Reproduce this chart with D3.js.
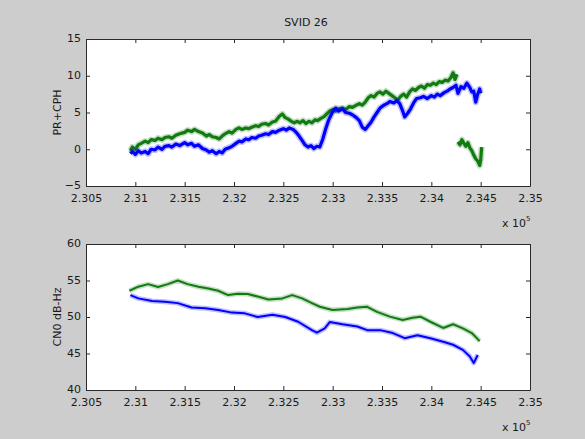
<!DOCTYPE html>
<html>
<head>
<meta charset="utf-8">
<script src="https://cdn.jsdelivr.net/npm/d3@7"></script>
<style>
  html, body { margin: 0; padding: 0; background: #cdcdcd; }
  svg { display: block; }
  text { font-family: "DejaVu Sans", sans-serif; fill: #1a1a1a; }
</style>
</head>
<body>
<svg id="fig" width="585" height="439"></svg>
<script>
// ---- data (time axis in units of 1e5 s) ----
const titleText = "SVID 26";
const xTicks = [2.305, 2.31, 2.315, 2.32, 2.325, 2.33, 2.335, 2.34, 2.345, 2.35];
const xTickLabels = ["2.305", "2.31", "2.315", "2.32", "2.325", "2.33", "2.335", "2.34", "2.345", "2.35"];
const prTicks = [-5, 0, 5, 10, 15];
const cnoTicks = [40, 45, 50, 55, 60];
const prLabel = "PR+CPH";
const cnoLabel = "CN0 dB-Hz";

// PR+CPH, blue receiver
const prBlue = [
  [2.3095,-0.6],[2.3097,-0.3],[2.3100,-0.7],[2.3103,-0.2],[2.3106,-0.5],[2.3110,-0.3],[2.3113,-0.6],
  [2.3116,0.0],[2.3120,-0.1],[2.3123,0.3],[2.3127,0.0],[2.3130,0.4],[2.3134,0.5],[2.3137,0.3],
  [2.3141,0.7],[2.3145,0.5],[2.3150,0.9],[2.3153,0.6],[2.3157,0.8],[2.3160,0.4],[2.3164,0.6],
  [2.3168,0.1],[2.3172,-0.1],[2.3175,-0.4],[2.3178,-0.2],[2.3182,-0.6],[2.3185,-0.3],[2.3188,-0.5],
  [2.3191,0.0],[2.3195,0.2],[2.3198,0.4],[2.3202,0.8],[2.3205,1.1],[2.3208,1.0],[2.3212,1.4],
  [2.3215,1.3],[2.3218,1.6],[2.3222,1.5],[2.3225,1.8],[2.3228,1.9],[2.3232,2.1],[2.3235,2.0],
  [2.3239,2.4],[2.3242,2.3],[2.3246,2.6],[2.3250,2.8],[2.3253,2.6],[2.3256,2.9],[2.3260,2.7],
  [2.3263,2.3],[2.3266,1.8],[2.3269,1.2],[2.3272,0.6],[2.3275,0.3],[2.3278,0.5],[2.3281,0.1],
  [2.3284,0.4],[2.3287,0.3],[2.3290,1.4],[2.3293,2.8],[2.3296,4.0],[2.3300,5.1],[2.3303,5.6],
  [2.3306,5.2],[2.3310,5.5],[2.3313,5.0],[2.3317,4.9],[2.3321,4.6],[2.3324,4.3],[2.3327,3.9],
  [2.3330,3.0],[2.3333,2.7],[2.3336,3.2],[2.3339,3.7],[2.3342,4.4],[2.3345,5.0],[2.3348,5.6],
  [2.3352,6.0],[2.3355,6.2],[2.3358,6.5],[2.3362,6.3],[2.3365,6.6],[2.3368,6.2],[2.3371,5.2],
  [2.3373,4.4],[2.3376,4.9],[2.3379,5.5],[2.3382,6.3],[2.3385,6.9],[2.3389,7.0],[2.3392,7.2],
  [2.3396,6.9],[2.3400,7.3],[2.3403,7.1],[2.3406,7.5],[2.3409,7.3],[2.3413,7.7],[2.3416,7.9],
  [2.3419,8.2],[2.3422,8.4],[2.3425,8.7],[2.3427,7.6],[2.3430,8.5],[2.3433,8.3],[2.3436,9.0],
  [2.3439,8.4],[2.3441,7.8],[2.3443,7.9],[2.3445,6.4],[2.3447,7.5],[2.3449,8.2],[2.3450,7.6]
];

// PR+CPH, green receiver (before the jump)
const prGreenA = [
  [2.3095,-0.2],[2.3097,0.3],[2.3100,0.0],[2.3103,0.6],[2.3106,0.8],[2.3110,1.1],[2.3113,0.9],
  [2.3116,1.3],[2.3120,1.2],[2.3123,1.5],[2.3127,1.3],[2.3130,1.6],[2.3134,1.7],[2.3137,1.5],
  [2.3141,1.9],[2.3145,2.1],[2.3150,2.3],[2.3153,2.6],[2.3157,2.4],[2.3160,2.7],[2.3164,2.4],
  [2.3168,2.2],[2.3172,1.8],[2.3175,2.0],[2.3178,1.7],[2.3182,1.6],[2.3185,1.4],[2.3188,1.8],
  [2.3191,2.1],[2.3195,2.4],[2.3198,2.2],[2.3202,2.7],[2.3205,2.9],[2.3208,2.7],[2.3212,2.9],
  [2.3215,2.8],[2.3218,3.0],[2.3222,3.2],[2.3225,3.1],[2.3228,3.4],[2.3232,3.5],[2.3235,3.3],
  [2.3239,3.7],[2.3242,3.8],[2.3246,4.5],[2.3249,4.8],[2.3252,4.3],[2.3255,4.1],[2.3258,3.8],
  [2.3261,3.6],[2.3264,3.8],[2.3267,3.6],[2.3270,3.9],[2.3273,3.5],[2.3276,3.8],[2.3279,3.6],
  [2.3282,4.0],[2.3285,3.9],[2.3288,4.2],[2.3291,4.4],[2.3294,4.8],[2.3297,5.2],[2.3300,5.4],
  [2.3303,5.2],[2.3306,5.5],[2.3310,5.6],[2.3313,5.4],[2.3317,5.8],[2.3320,5.7],[2.3324,6.0],
  [2.3327,6.2],[2.3330,6.0],[2.3333,6.4],[2.3336,7.0],[2.3339,7.3],[2.3342,7.1],[2.3345,7.6],
  [2.3348,7.8],[2.3351,7.5],[2.3354,7.9],[2.3357,7.6],[2.3360,7.3],[2.3363,7.0],[2.3366,6.7],
  [2.3369,7.2],[2.3372,7.5],[2.3375,7.1],[2.3378,7.8],[2.3381,8.2],[2.3384,8.0],[2.3387,8.4],
  [2.3390,8.6],[2.3393,8.3],[2.3396,8.8],[2.3399,8.7],[2.3402,9.0],[2.3405,8.8],[2.3408,9.2],
  [2.3411,9.1],[2.3414,9.4],[2.3417,9.3],[2.3420,9.8],[2.3422,10.4],[2.3424,9.5],[2.3426,10.2]
];

// PR+CPH, green receiver (after the jump)
const prGreenB = [
  [2.3427,1.0],[2.3429,0.6],[2.3431,1.3],[2.3433,0.8],[2.3435,0.4],[2.3437,0.9],[2.3439,0.2],
  [2.3441,-0.2],[2.3443,-0.8],[2.3445,-1.3],[2.3447,-1.6],[2.3449,-2.2],[2.3450,-1.5],[2.3451,0.3]
];

// CN0, green receiver
const cnoGreen = [
  [2.3094,53.6],[2.3103,54.15],[2.3113,54.5],[2.3123,54.1],[2.3133,54.5],[2.3143,55.0],[2.3153,54.5],
  [2.3164,54.15],[2.3174,53.9],[2.3184,53.6],[2.3194,53.0],[2.3204,53.2],[2.3214,53.15],[2.3224,52.8],
  [2.3235,52.4],[2.3249,52.55],[2.3259,53.0],[2.3269,52.55],[2.3279,51.9],[2.3287,51.4],[2.3300,50.95],
  [2.3315,51.1],[2.3325,51.3],[2.3335,51.4],[2.3345,50.7],[2.3358,50.05],[2.3371,49.6],[2.3381,49.9],
  [2.3389,50.05],[2.3399,49.35],[2.3412,48.5],[2.3422,49.0],[2.3432,48.45],[2.3441,47.8],[2.3449,46.7]
];

// CN0, blue receiver
const cnoBlue = [
  [2.3095,53.0],[2.3103,52.55],[2.3117,52.2],[2.3130,52.1],[2.3143,51.9],[2.3157,51.3],[2.3171,51.2],
  [2.3184,50.95],[2.3198,50.6],[2.3211,50.5],[2.3224,50.0],[2.3239,50.3],[2.3252,50.0],[2.3265,49.35],
  [2.3279,48.2],[2.3284,47.85],[2.3292,48.45],[2.3297,49.3],[2.3310,49.0],[2.3325,48.7],[2.3335,48.2],
  [2.3348,48.2],[2.3361,47.8],[2.3373,47.1],[2.3386,47.5],[2.3399,47.1],[2.3412,46.6],[2.3422,46.2],
  [2.3432,45.5],[2.3439,44.6],[2.3443,43.7],[2.3447,44.8]
];

// ---- drawing ----
const svg = d3.select("#fig");
const blue = "#0000ff", green = "#117a11", axisColor = "#2a2a2a";

svg.append("rect").attr("width", 585).attr("height", 439).attr("fill", "#cdcdcd");

svg.append("text")
  .attr("x", 306).attr("y", 26)
  .attr("text-anchor", "middle")
  .style("font-size", "11px")
  .text(titleText);

function panel(box, yDomain, yTicks, yLabel, series, lineWidth) {
  const x = d3.scaleLinear().domain([xTicks[0], xTicks[xTicks.length - 1]]).range([box.left, box.right]);
  const y = d3.scaleLinear().domain(yDomain).range([box.bottom, box.top]);

  svg.append("rect")
    .attr("x", box.left).attr("y", box.top)
    .attr("width", box.right - box.left).attr("height", box.bottom - box.top)
    .attr("fill", "#ffffff");

  const line = d3.line().x(d => x(d[0])).y(d => y(d[1]));
  const g = svg.append("g");
  series.forEach(s => {
    g.append("path").datum(s.data)
      .attr("d", line).attr("fill", "none")
      .attr("stroke", s.color).attr("stroke-opacity", 0.25)
      .attr("stroke-width", lineWidth + 3).attr("stroke-linejoin", "round");
    g.append("path").datum(s.data)
      .attr("d", line).attr("fill", "none")
      .attr("stroke", s.color).attr("stroke-width", lineWidth)
      .attr("stroke-linejoin", "round");
  });

  const styleAxis = sel => {
    sel.selectAll("path.domain").attr("stroke", axisColor).attr("stroke-width", 1);
    sel.selectAll(".tick line").attr("stroke", axisColor);
    sel.selectAll("text").style("font-size", "11px").style("font-family", "DejaVu Sans, sans-serif").attr("fill", "#1a1a1a");
  };

  svg.append("g").attr("transform", `translate(0,${box.bottom})`)
    .call(d3.axisBottom(x).tickValues(xTicks).tickFormat((d, i) => xTickLabels[i])
      .tickSizeInner(-4).tickSizeOuter(0).tickPadding(8))
    .call(styleAxis);
  svg.append("g").attr("transform", `translate(0,${box.top})`)
    .call(d3.axisTop(x).tickValues(xTicks).tickFormat("").tickSizeInner(-4).tickSizeOuter(0))
    .call(styleAxis);
  svg.append("g").attr("transform", `translate(${box.left},0)`)
    .call(d3.axisLeft(y).tickValues(yTicks).tickFormat(d3.format("d"))
      .tickSizeInner(-4).tickSizeOuter(0).tickPadding(5))
    .call(styleAxis)
    .call(sel => sel.selectAll("text").attr("dy", "0.25em"));
  svg.append("g").attr("transform", `translate(${box.right},0)`)
    .call(d3.axisRight(y).tickValues(yTicks).tickFormat("").tickSizeInner(-4).tickSizeOuter(0))
    .call(styleAxis);

  svg.append("text")
    .attr("transform", `translate(${box.left - 25},${(box.top + box.bottom) / 2}) rotate(-90)`)
    .attr("text-anchor", "middle")
    .style("font-size", "11px")
    .text(yLabel);

  const mult = svg.append("text")
    .attr("x", box.right - 28).attr("y", box.bottom + 41)
    .style("font-size", "11px");
  mult.append("tspan").text("x 10");
  mult.append("tspan").attr("dy", -6).style("font-size", "7px").text("5");
}

panel({ left: 86, right: 530, top: 39, bottom: 186 }, [-5, 15], prTicks, prLabel,
  [{ data: prGreenA, color: green }, { data: prGreenB, color: green }, { data: prBlue, color: blue }], 3.2);

panel({ left: 86, right: 530, top: 244, bottom: 390 }, [40, 60], cnoTicks, cnoLabel,
  [{ data: cnoGreen, color: green }, { data: cnoBlue, color: blue }], 2.0);
</script>
</body>
</html>
